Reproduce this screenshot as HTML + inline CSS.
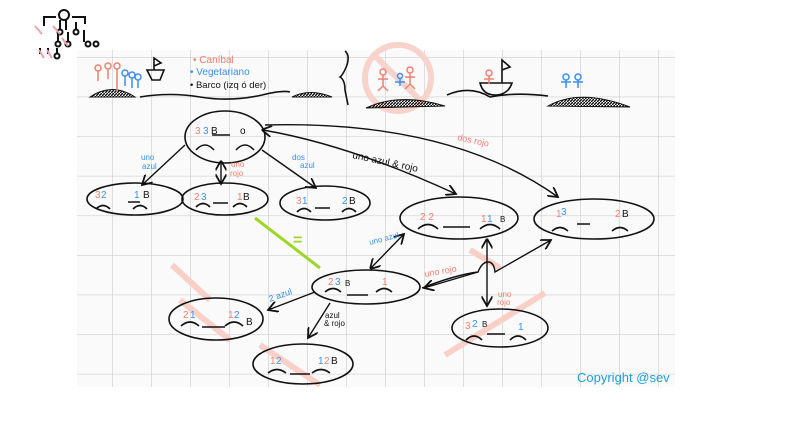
<!DOCTYPE html>
<html><head><meta charset="utf-8"><style>
html,body{margin:0;padding:0;background:#fff;width:800px;height:444px;overflow:hidden}
svg{display:block}
text{font-family:"Liberation Sans",sans-serif}
</style></head><body>
<svg width="800" height="444" viewBox="0 0 800 444" xmlns="http://www.w3.org/2000/svg">
<defs>
<pattern id="g" x="112" y="57" width="39" height="39.6" patternUnits="userSpaceOnUse">
<path d="M0 0V40M0 0H39" stroke="#cfcfcf" stroke-width="1.3" fill="none"/>
</pattern>
<pattern id="h" width="3" height="3" patternUnits="userSpaceOnUse"><path d="M0 3L3 0" stroke="#111" stroke-width="1.4"/></pattern>
<marker id="a" markerWidth="8" markerHeight="8" refX="7" refY="4" orient="auto"><path d="M0 0L7 4L0 8" fill="none" stroke="#111" stroke-width="1.3"/></marker>
<marker id="s" markerWidth="8" markerHeight="8" refX="1" refY="4" orient="auto"><path d="M7 0L0 4L7 8" fill="none" stroke="#111" stroke-width="1.3"/></marker>
</defs>
<rect x="77" y="50" width="598" height="337" fill="#fafafa"/>
<rect x="77" y="50" width="598" height="337" fill="url(#g)"/>
<!-- logo -->
<g stroke="#111" stroke-width="2" fill="none">
<circle cx="64" cy="15" r="5"/><path d="M56 17H44V26M72 17H85V24M60 20V30M66 20V30M76 22V30M58 32V42M68 32V42M84 30V42M40 48V54M48 48V54M57 48V54"/>
<circle cx="60" cy="32" r="2.5"/><circle cx="76" cy="32" r="2.5"/><circle cx="58" cy="44" r="2.5"/><circle cx="68" cy="44" r="2.5"/><circle cx="88" cy="44" r="2.5"/><circle cx="96" cy="44" r="2.5"/><circle cx="57" cy="56" r="2.5"/>
</g>
<path d="M35 26L42 34M53 26L60 34M62 38L68 46M39 50L44 58M47 50L52 58" stroke="#f0a0a8" stroke-width="2"/>
<!-- top strip -->
<circle cx="398" cy="78" r="33" stroke="#f8d3cc" stroke-width="6" fill="none"/><path d="M375 56L422 102" stroke="#f8d3cc" stroke-width="6"/>
<g fill="url(#h)" stroke="#111" stroke-width="1">
<path d="M90 97Q112 82 135 97Z"/>
<path d="M292 97Q310 88 332 97Z"/>
<path d="M366 108Q400 92 445 106Z"/>
<path d="M548 106Q580 88 630 107Z"/>
</g>
<g fill="none" stroke="#111" stroke-width="1.6">
<path d="M140 97Q170 92 200 97Q230 102 262 95Q282 90 290 92"/>
<path d="M152 80H160L164 70H147ZM154 70V58L161 63L154 66"/>
<path d="M345 51Q350 55 347 65Q343 75 340 77Q345 80 345 90L348 105"/>
<path d="M447 95Q470 85 490 97Q515 92 548 96"/>
<path d="M480 83H512Q508 95 495 95Q483 95 480 83ZM502 83V60L510 67L502 70"/>
</g>
<g stroke="#f08070" stroke-width="1.5" fill="none"><circle cx="98" cy="68" r="3"/><circle cx="108" cy="66" r="3"/><circle cx="117" cy="66" r="3"/><path d="M98 71V81M108 69V79M117 69V92"/><circle cx="489" cy="73" r="3"/><path d="M489 76V84M484 79H494"/>
<circle cx="383" cy="72" r="3"/><path d="M383 75V86M378 79H388M378 91L383 86L388 91"/><circle cx="410" cy="70" r="3"/><path d="M410 73V84M405 77H415M405 89L410 84L415 89"/></g>
<g stroke="#3a8ff0" stroke-width="1.5" fill="none"><circle cx="125" cy="73" r="3"/><circle cx="132" cy="75" r="3"/><circle cx="138" cy="77" r="3"/><path d="M125 76V86M132 78V88M138 80V88"/><circle cx="400" cy="76" r="2.5"/><path d="M400 79V86M395 82H405M566 80V88M578 80V88"/><circle cx="566" cy="77" r="3"/><circle cx="578" cy="77" r="3"/><path d="M561 82H571M573 82H583"/></g>
<text x="193" y="63" font-size="10" fill="#f08070">• Caníbal</text>
<text x="190" y="75" font-size="10" fill="#3a8ff0">• Vegetariano</text>
<text x="190" y="88" font-size="9.5" fill="#111">• Barco (izq ó der)</text>
<!-- red crosses -->
<g stroke="#f8d0c8" stroke-width="6"><path d="M172 265L210 300M180 300L230 340M260 345L320 385M445 355L545 293M470 250L500 268"/></g>
<!-- green -->
<path d="M255 218L320 268" stroke="#9ed628" stroke-width="3"/>
<text x="293" y="245" font-size="16" fill="#9ed628" font-weight="bold">=</text>
<!-- ellipses -->
<g fill="none" stroke="#111" stroke-width="1.6">
<ellipse cx="225" cy="137" rx="40" ry="26"/>
<ellipse cx="135" cy="199" rx="48" ry="16"/>
<ellipse cx="225" cy="199" rx="43" ry="16"/>
<ellipse cx="325" cy="203" rx="45" ry="17"/>
<ellipse cx="459" cy="218" rx="59" ry="21"/>
<ellipse cx="594" cy="219" rx="60" ry="20"/>
<ellipse cx="366" cy="287" rx="54" ry="17"/>
<ellipse cx="216" cy="319" rx="47" ry="21"/>
<ellipse cx="303" cy="364" rx="50" ry="20"/>
<ellipse cx="500" cy="328" rx="48" ry="19"/>
<path d="M196 150Q205 140 214 150M236 150Q245 140 254 150M212 135H230"/>
<path d="M96 209Q103 202 110 209M128 202H140M133 209Q140 202 147 209"/>
<path d="M196 207Q203 200 210 207M213 203H228M233 207Q240 200 247 207"/>
<path d="M297 212Q304 205 311 212M315 208H330M342 212Q349 205 356 212"/>
<path d="M418 229Q428 220 438 229M443 227H470M480 229Q490 220 500 229"/>
<path d="M552 231Q560 224 568 231M577 224H590M612 231Q620 224 628 231"/>
<path d="M325 292Q333 285 341 292M347 295H368M376 292Q384 285 392 292"/>
<path d="M181 326Q190 318 199 326M202 327H225M225 326Q234 318 243 326"/>
<path d="M268 373Q277 366 286 373M290 374H310M312 373Q321 366 330 373"/>
<path d="M466 340Q474 332 482 340M487 334H505M510 340Q518 332 526 340"/>
</g>
<g font-size="10">
<text x="195" y="134" fill="#f08070">3</text><text x="203" y="134" fill="#3a8ff0">3</text><text x="211" y="134" fill="#111">B</text><text x="240" y="134" fill="#111">o</text>
<text x="95" y="198" fill="#f08070">3</text><text x="101" y="198" fill="#3a8ff0">2</text><text x="134" y="198" fill="#3a8ff0">1</text><text x="143" y="198" fill="#111">B</text>
<text x="194" y="200" fill="#f08070">2</text><text x="201" y="200" fill="#3a8ff0">3</text><text x="237" y="200" fill="#f08070">1</text><text x="243" y="200" fill="#111">B</text>
<text x="296" y="204" fill="#f08070">3</text><text x="302" y="204" fill="#3a8ff0">1</text><text x="342" y="204" fill="#3a8ff0">2</text><text x="349" y="204" fill="#111">B</text>
<text x="420" y="220" fill="#f08070">2 2</text><text x="481" y="222" fill="#f08070">1</text><text x="487" y="222" fill="#3a8ff0">1</text><text x="500" y="222" fill="#111" font-size="8">B</text>
<text x="556" y="217" fill="#f08070">1</text><text x="561" y="215" fill="#3a8ff0">3</text><text x="615" y="217" fill="#f08070">2</text><text x="622" y="217" fill="#111">B</text>
<text x="328" y="285" fill="#f08070">2</text><text x="335" y="285" fill="#3a8ff0">3</text><text x="345" y="286" fill="#111" font-size="8">B</text><text x="382" y="285" fill="#f08070">1</text>
<text x="183" y="318" fill="#f08070">2</text><text x="190" y="318" fill="#3a8ff0">1</text><text x="228" y="318" fill="#f08070">1</text><text x="234" y="318" fill="#3a8ff0">2</text><text x="246" y="325" fill="#111">B</text>
<text x="270" y="364" fill="#f08070">1</text><text x="276" y="364" fill="#3a8ff0">2</text><text x="318" y="364" fill="#3a8ff0">1</text><text x="324" y="364" fill="#f08070">2</text><text x="331" y="364" fill="#111">B</text>
<text x="465" y="329" fill="#f08070">3</text><text x="472" y="327" fill="#3a8ff0">2</text><text x="482" y="327" fill="#111" font-size="8">B</text><text x="518" y="330" fill="#3a8ff0">1</text>
</g>
<g fill="none" stroke="#111" stroke-width="1.4">
<path d="M185 145L142 185" marker-end="url(#a)"/>
<path d="M221 162V184" marker-end="url(#a)" marker-start="url(#s)"/>
<path d="M262 150L316 188" marker-end="url(#a)"/>
<path d="M263 130Q350 145 456 194" marker-end="url(#a)" marker-start="url(#s)"/>
<path d="M265 125Q450 120 558 197" marker-end="url(#a)"/>
<path d="M371 268L404 234" marker-end="url(#a)" marker-start="url(#s)"/>
<path d="M422 288Q455 275 478 272Q482 262 488 262Q494 262 495 272L551 240" marker-end="url(#a)"/>
<path d="M478 272L424 288" marker-end="url(#a)"/>
<path d="M487 240V306" marker-end="url(#a)" marker-start="url(#s)"/>
<path d="M315 292L268 310" marker-end="url(#a)"/>
<path d="M330 303L308 338" marker-end="url(#a)"/>
</g>
<g font-size="8">
<text x="141" y="160" fill="#3a8ff0">uno</text><text x="142" y="169" fill="#3a8ff0">azul</text>
<text x="231" y="167" fill="#f08070">uno</text><text x="230" y="176" fill="#f08070">rojo</text>
<text x="292" y="160" fill="#3a8ff0">dos</text><text x="300" y="168" fill="#3a8ff0">azul</text>
<text x="352" y="158" font-size="10" fill="#111" transform="rotate(12 352 158)">uno azul &amp; rojo</text>
<text x="457" y="140" font-size="9" fill="#f08070" transform="rotate(12 457 140)">dos rojo</text>
<text x="370" y="245" fill="#3a8ff0" transform="rotate(-15 370 245)">uno azul</text>
<text x="425" y="277" font-size="9" fill="#f08070" transform="rotate(-10 425 277)">uno rojo</text>
<text x="498" y="297" fill="#f08070">uno</text><text x="497" y="305" fill="#f08070">rojo</text>
<text x="270" y="302" font-size="9" fill="#3a8ff0" transform="rotate(-20 270 302)">2 azul</text>
<text x="325" y="318" fill="#111">azul</text><text x="324" y="326" fill="#111">&amp; rojo</text>
</g>
<text x="577" y="382" font-size="13" fill="#1a9fe0">Copyright @sev</text>
</svg>
</body></html>
